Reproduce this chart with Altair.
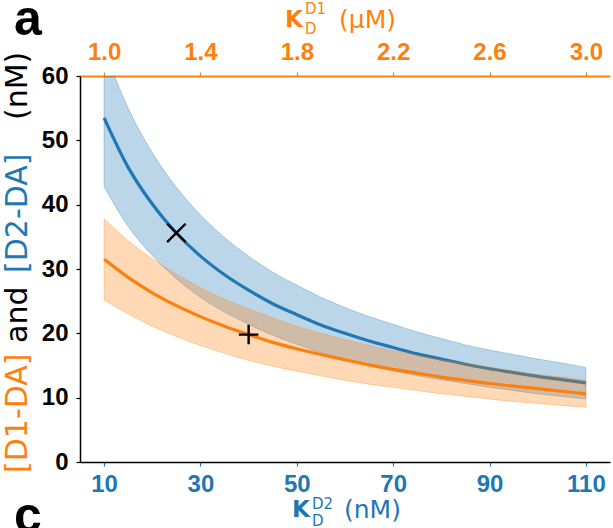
import altair as alt
import pandas as pd

BLUE = "#1f77b4"
ORANGE = "#ff7f0e"

# D2 dissociation constant (nM), shared x grid for both curves
kd2 = [10, 15, 20, 25, 30, 35, 40, 45, 50, 55, 60,
       65, 70, 75, 80, 85, 90, 95, 100, 105, 110]

# [D2-DA] (nM): central estimate and band
d2_mean = [53.5, 45.8, 40.1, 35.6, 32.0, 29.1, 26.7, 24.6, 22.9, 21.3, 20.0,
           18.8, 17.8, 16.8, 16.0, 15.2, 14.5, 13.9, 13.3, 12.8, 12.3]
d2_hi = [64.2, 55.0, 48.1, 42.7, 38.4, 34.9, 32.0, 29.5, 27.5, 25.6, 24.0,
         22.6, 21.4, 20.2, 19.2, 18.2, 17.4, 16.7, 16.0, 15.4, 14.7]
d2_lo = [42.8, 36.6, 32.1, 28.5, 25.6, 23.3, 21.4, 19.7, 18.3, 17.0, 16.0,
         15.0, 14.2, 13.4, 12.8, 12.2, 11.6, 11.1, 10.6, 10.2, 9.8]

# [D1-DA] (nM): central estimate and band
d1_mean = [31.5, 28.7, 26.3, 24.3, 22.6, 21.1, 19.8, 18.6, 17.6, 16.7, 15.9,
           15.1, 14.4, 13.8, 13.2, 12.7, 12.2, 11.8, 11.4, 11.0, 10.6]
d1_hi = [37.8, 34.4, 31.6, 29.2, 27.1, 25.3, 23.8, 22.4, 21.1, 20.0, 19.0,
         18.1, 17.3, 16.6, 15.9, 15.3, 14.7, 14.1, 13.6, 13.2, 12.7]
d1_lo = [25.2, 23.0, 21.1, 19.5, 18.1, 16.9, 15.8, 14.9, 14.1, 13.4, 12.7,
         12.1, 11.6, 11.1, 10.6, 10.2, 9.8, 9.4, 9.1, 8.8, 8.5]

# reference points
d2_ref_k, d2_ref_val = [25], [35.6]
d1_ref_k, d1_ref_val = [40], [19.8]

kd2_ticks = [10, 30, 50, 70, 90, 110]
kd1_ticks = [1.0, 1.4, 1.8, 2.2, 2.6, 3.0]
y_ticks = [0, 10, 20, 30, 40, 50, 60]

d2 = pd.DataFrame({"K": kd2, "mean": d2_mean, "hi": d2_hi, "lo": d2_lo})
d1 = pd.DataFrame({"K": kd2, "mean": d1_mean, "hi": d1_hi, "lo": d1_lo})
ref2 = pd.DataFrame({"K": d2_ref_k, "mean": d2_ref_val})
ref1 = pd.DataFrame({"K": d1_ref_k, "mean": d1_ref_val})

TICK_FONT = "Liberation Sans"
TITLE_FONT = "DejaVu Sans"

x_enc = alt.X(
    "K:Q",
    scale=alt.Scale(domain=[5, 115], nice=False, zero=False),
    axis=alt.Axis(
        orient="bottom", values=kd2_ticks, title=None, grid=False,
        labelColor=BLUE, tickColor=BLUE, domainColor="black", domainWidth=1.5,
        labelFont=TICK_FONT, labelFontWeight="bold", labelFontSize=24,
        tickSize=4, tickWidth=1.2, labelPadding=6, labelFlush=False,
    ),
)
y_scale = alt.Scale(domain=[0, 60], nice=False, zero=True)
y_axis = alt.Axis(
    values=y_ticks, title=None, grid=False,
    labelColor="black", tickColor="black", domainColor="black", domainWidth=1.5,
    labelFont=TICK_FONT, labelFontWeight="bold", labelFontSize=24,
    tickSize=4, tickWidth=1.2, labelPadding=8, labelFlush=False,
)


def band(df, color):
    return alt.Chart(df).mark_area(
        color=color, fillOpacity=0.3, stroke=color, strokeOpacity=0.3,
        strokeWidth=1, clip=True, interpolate="monotone",
    ).encode(x=x_enc, y=alt.Y("lo:Q", scale=y_scale, axis=y_axis), y2="hi:Q")


def curve(df, color):
    return alt.Chart(df).mark_line(
        color=color, strokeWidth=3.2, clip=True, interpolate="monotone",
    ).encode(x=x_enc, y=alt.Y("mean:Q", scale=y_scale, axis=y_axis))


X_SHAPE = "M-1,-1L1,1M-1,1L1,-1"
PLUS_SHAPE = "M-1,0L1,0M0,-1L0,1"

marker_x = alt.Chart(ref2).mark_point(
    shape=X_SHAPE, size=340, filled=False, color="black", strokeWidth=2.4, opacity=1,
).encode(x=x_enc, y=alt.Y("mean:Q", scale=y_scale, axis=y_axis))
marker_plus = alt.Chart(ref1).mark_point(
    shape=PLUS_SHAPE, size=380, filled=False, color="black", strokeWidth=2.4, opacity=1,
).encode(x=x_enc, y=alt.Y("mean:Q", scale=y_scale, axis=y_axis))

data_layers = alt.layer(
    band(d2, BLUE), curve(d2, BLUE),
    band(d1, ORANGE), curve(d1, ORANGE),
    marker_x, marker_plus,
)

# top axis: D1 dissociation constant (uM)
top_axis = alt.Chart(pd.DataFrame({"K1": kd1_ticks})).mark_point(opacity=0).encode(
    x=alt.X(
        "K1:Q",
        scale=alt.Scale(domain=[0.9, 3.1], nice=False, zero=False),
        axis=alt.Axis(
            orient="top", values=kd1_ticks, format=".1f", title=None, grid=False,
            labelColor=ORANGE, tickColor=ORANGE, domainColor=ORANGE, domainWidth=2,
            labelFont=TICK_FONT, labelFontWeight="bold", labelFontSize=24,
            tickSize=4, tickWidth=1.2, labelPadding=8, labelFlush=False,
        ),
    )
)

_one = pd.DataFrame({"_": [0]})


def label(text, x, y, size, color, weight="normal", font=TITLE_FONT,
          angle=0, align="left", baseline="alphabetic"):
    return alt.Chart(_one).mark_text(
        text=text, fontSize=size, color=color, fontWeight=weight, font=font,
        angle=angle, align=align, baseline=baseline,
    ).encode(x=alt.value(x), y=alt.value(y))


texts = [
    # bottom axis title: K_D^D2 (nM)
    label("K", 212, 441, 23, BLUE, "bold"),
    label("D2", 232, 433, 15, BLUE),
    label("D", 232, 450, 15, BLUE),
    label("(nM)", 264, 442, 25, BLUE),
    # top axis title: K_D^D1 (uM)
    label("K", 205, -49, 23, ORANGE, "bold"),
    label("D1", 225, -62, 15, ORANGE),
    label("D", 225, -42, 15, ORANGE),
    label("(μM)", 259, -48, 25, ORANGE),
    # y axis title, read bottom to top
    label("[D1-DA]", -53, 397, 30, ORANGE, angle=270),
    label("and", -53, 267, 30, "black", angle=270),
    label("[D2-DA]", -53, 197, 30, BLUE, angle=270),
    label("(nM)", -53, 44, 30, "black", angle=270),
    # panel letters
    label("a", -66, -41, 50, "black", "bold", font="Liberation Sans"),
    label("c", -66, 456, 50, "black", "bold", font="Liberation Sans"),
]

chart = (
    alt.layer(data_layers, top_axis, *texts)
    .resolve_scale(x="independent")
    .properties(
        width=530, height=386,
        padding={"left": 80, "top": 76, "right": 3, "bottom": 66},
        autosize=alt.AutoSizeParams(type="none"),
    )
    .configure_view(stroke=None)
    .configure_axis(grid=False)
)

chart.save("out.html", embed_options={"renderer": "svg", "actions": False})
